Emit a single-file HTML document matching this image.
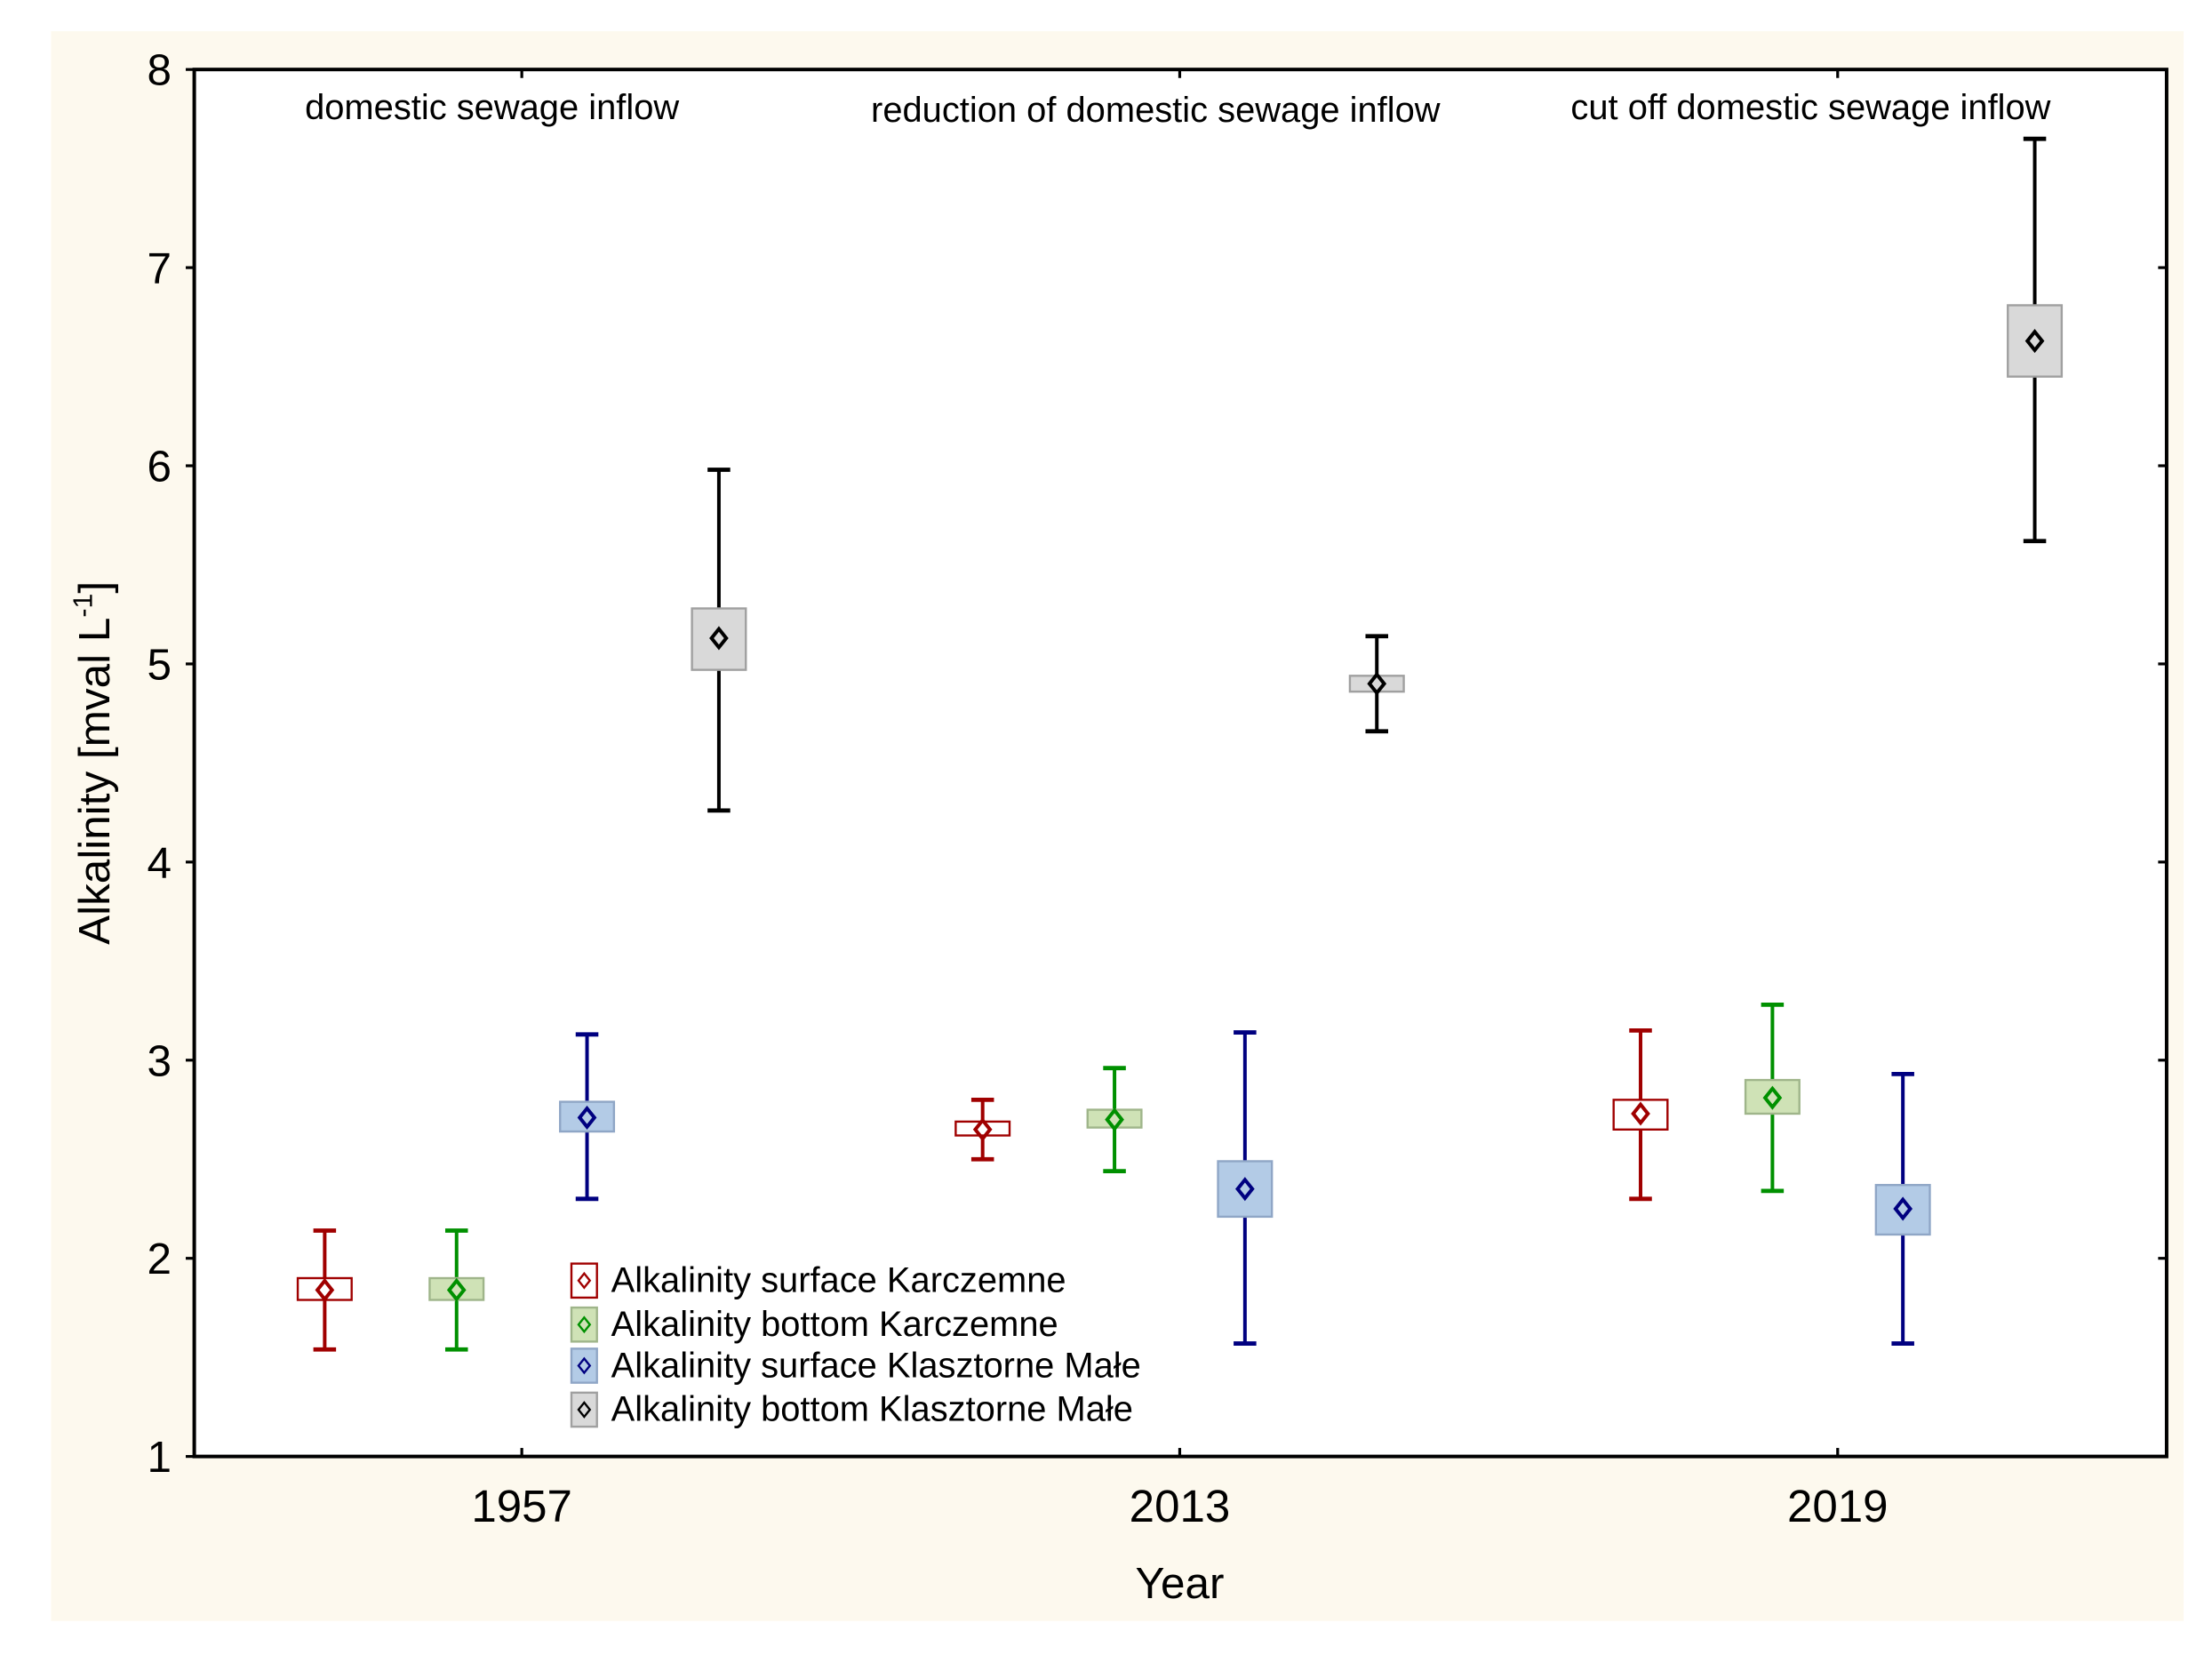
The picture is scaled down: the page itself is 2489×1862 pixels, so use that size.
<!DOCTYPE html>
<html><head><meta charset="utf-8"><style>
html,body{margin:0;padding:0;background:#fff;}
svg{display:block;}
text{font-family:"Liberation Sans",Arial,sans-serif;fill:#000;}
</style></head><body>
<svg id="chart" width="2489" height="1862" viewBox="0 0 1560 1167" preserveAspectRatio="none" xmlns="http://www.w3.org/2000/svg">
<rect x="36" y="22" width="1504" height="1121" fill="#fdf9ee"/>
<rect x="137" y="49" width="1391" height="978" fill="#fff" stroke="#000" stroke-width="2.5"/>
<g id="axes"></g>
<g id="marks"></g>
<text x="347" y="84" font-size="25" text-anchor="middle">domestic sewage inflow</text>
<text x="815" y="86" font-size="25" text-anchor="middle">reduction of domestic sewage inflow</text>
<text x="1277" y="84" font-size="25" text-anchor="middle">cut off domestic sewage inflow</text>
<text x="832" y="1127" font-size="31" text-anchor="middle">Year</text>
<text transform="translate(77,538) rotate(-90)" font-size="31" text-anchor="middle">Alkalinity [mval L<tspan font-size="19" dy="-12">-1</tspan><tspan dy="12">]</tspan></text>
<g id="legend"></g>
</svg>
<script>
const years = ["1957", "2013", "2019"];
const seriesNames = ["Alkalinity surface Karczemne", "Alkalinity bottom Karczemne", "Alkalinity surface Klasztorne Małe", "Alkalinity bottom Klasztorne Małe"];
const yTicks = [1, 2, 3, 4, 5, 6, 7, 8];
// per series, per year
const means = [[1.84, 2.65, 2.73], [1.84, 2.70, 2.81], [2.71, 2.35, 2.25], [5.13, 4.90, 6.63]];
const boxLow = [[1.79, 2.62, 2.65], [1.79, 2.66, 2.73], [2.64, 2.21, 2.12], [4.97, 4.86, 6.45]];
const boxHigh = [[1.90, 2.69, 2.80], [1.90, 2.75, 2.90], [2.79, 2.49, 2.37], [5.28, 4.94, 6.81]];
const whiskLow = [[1.54, 2.50, 2.30], [1.54, 2.44, 2.34], [2.30, 1.57, 1.57], [4.26, 4.66, 5.62]];
const whiskHigh = [[2.14, 2.80, 3.15], [2.14, 2.96, 3.28], [3.13, 3.14, 2.93], [5.98, 5.14, 7.65]];

const NS = "http://www.w3.org/2000/svg";
const lineCol = ["#a00000", "#009000", "#000080", "#000000"];
const boxFill = ["#ffffff", "#cfe2b6", "#b3cbe6", "#d9d9d9"];
const boxStroke = ["#a00000", "#9fb58a", "#8fa6c6", "#a0a0a0"];
function yS(v){ return 1027 - (v - 1) * (978 / 7); }
function xS(i){ return 368 + i * 464; }
const offs = [-139, -46, 46, 139];
function el(tag, attrs, parent){ const e = document.createElementNS(NS, tag); for (const k in attrs) e.setAttribute(k, attrs[k]); parent.appendChild(e); return e; }
const axes = document.getElementById("axes");
yTicks.forEach(t => {
  const y = yS(t);
  const a = el("line", {x1:131, x2:137, y1:y, y2:y, stroke:"#000", "stroke-width":2}, axes);
  
  
  const b = el("line", {x1:1522, x2:1528, y1:y, y2:y, stroke:"#000", "stroke-width":2}, axes);
  
  
  const tx = el("text", {x:121, y:y + 11, "font-size":31, "text-anchor":"end"}, axes);
  tx.textContent = t;
  
  
});
years.forEach((yr, i) => {
  const x = xS(i);
  const a = el("line", {x1:x, x2:x, y1:1021, y2:1027, stroke:"#000", "stroke-width":2}, axes);
  
  
  const b = el("line", {x1:x, x2:x, y1:49, y2:55, stroke:"#000", "stroke-width":2}, axes);
  
  
  const tx = el("text", {x:x, y:1073, "font-size":32, "text-anchor":"middle"}, axes);
  tx.textContent = yr;
  
  
});
const marks = document.getElementById("marks");
function diamond(cx, cy, r, col, parent, sw){
  return el("polygon", {points:`${cx},${cy-r} ${cx+r*0.8},${cy} ${cx},${cy+r} ${cx-r*0.8},${cy}`, fill:"none", stroke:col, "stroke-width":sw}, parent);
}
means.forEach((ser, s) => {
  ser.forEach((m, i) => {
    const x = xS(i) + offs[s];
    const g = el("g", {}, marks);
    
    
    const c = lineCol[s];
    el("line", {x1:x, x2:x, y1:yS(whiskHigh[s][i]), y2:yS(whiskLow[s][i]), stroke:c, "stroke-width":2.5}, g);
    el("line", {x1:x-8, x2:x+8, y1:yS(whiskHigh[s][i]), y2:yS(whiskHigh[s][i]), stroke:c, "stroke-width":3}, g);
    el("line", {x1:x-8, x2:x+8, y1:yS(whiskLow[s][i]), y2:yS(whiskLow[s][i]), stroke:c, "stroke-width":3}, g);
    const bt = yS(boxHigh[s][i]), bb = yS(boxLow[s][i]);
    el("rect", {x:x-19, y:bt, width:38, height:bb-bt, fill:boxFill[s], stroke:boxStroke[s], "stroke-width":1.5}, g);
    diamond(x, yS(m), 6.5, c, g, 2.5);
  });
});
const legend = document.getElementById("legend");
const legY = [903, 934, 963, 994];
seriesNames.forEach((n, s) => {
  const g = el("g", {}, legend);
  
  
  const y = legY[s];
  el("rect", {x:403, y:y-12, width:18, height:24, fill:boxFill[s], stroke:boxStroke[s], "stroke-width":1.5}, g);
  diamond(412, y, 5, lineCol[s], g, 1.5);
  const t = el("text", {x:431, y:y + 8, "font-size":25}, g);
  t.textContent = n;
});
</script>
</body></html>
